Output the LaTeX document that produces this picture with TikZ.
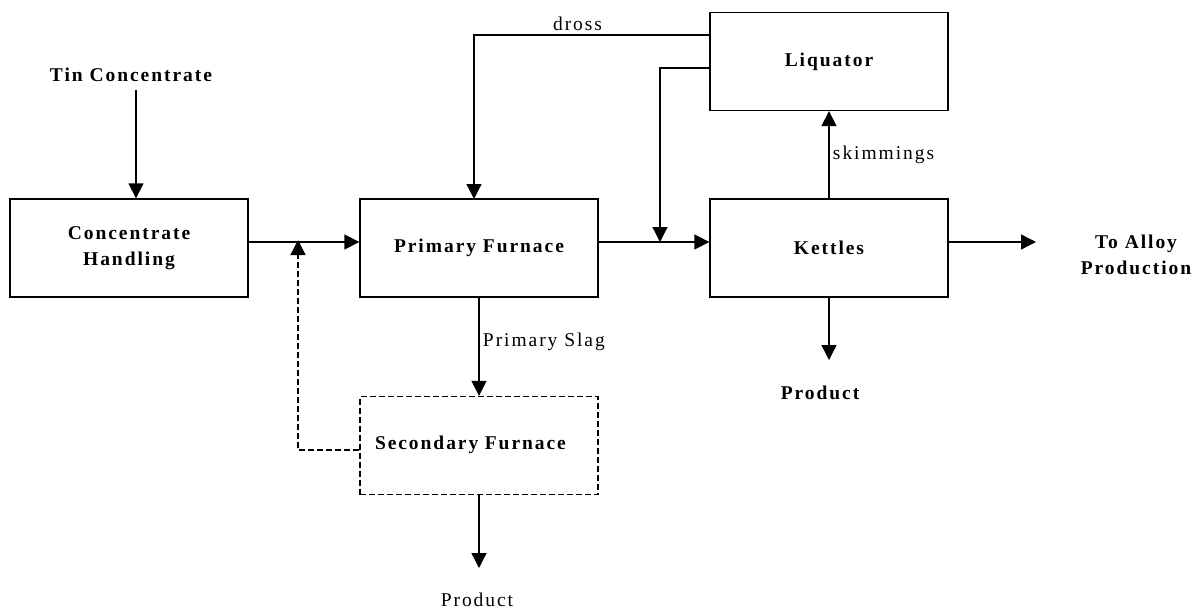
\documentclass[tikz,border=0pt]{standalone}
\usepackage{fontspec}
\setmainfont{Liberation Serif}[LetterSpace=10]
\usepackage{tikz}
\usetikzlibrary{arrows.meta}

\begin{document}
\begin{tikzpicture}[x=1pt, y=-1pt, >={Triangle[length=15pt,width=15pt]}, line width=1.3pt]
\useasboundingbox (0,0) rectangle (1192,610);

\tikzstyle{every node}=[rectangle, draw, minimum width=238pt, minimum height=98pt, font=\fontsize{19.5}{26}\selectfont\bfseries, align=center, line width=1.3pt]
\draw    (129, 248)  node (conc) {Concentrate\\Handling}
         (479, 248)  node (prim) {Primary Furnace}
         (829, 248)  node (kett) {Kettles}
         (829, 61.5) node (liqu) {Liquator};
\draw    (479, 445.5) node[dashed, dash pattern=on 6pt off 3pt, text width=220pt, align=left, text depth=6pt] (seco) {\hspace*{6pt}Secondary Furnace};

\tikzstyle{every node}=[font=\fontsize{19.5}{26}\selectfont]
\draw    (131, 75)   node[font=\fontsize{19.5}{26}\selectfont\bfseries] (tin) {Tin Concentrate}
         (820, 393)  node[font=\fontsize{19.5}{26}\selectfont\bfseries] (prod1) {Product}
         (477, 600)  node (prod2) {Product}
         (1136, 255) node[align=center, font=\fontsize{19.5}{26}\selectfont\bfseries] (alloy) {To Alloy\\Production};
\coordinate (tinend) at (136, 90);
\coordinate (merge1) at (298, 242);
\coordinate (merge2) at (660, 242);
\coordinate (prod1end) at (829, 360);
\coordinate (prod2end) at (479, 568);
\coordinate (alloyend) at (1036, 242);

\draw [->] (tinend) -- (tinend |- conc.north);
\draw [->] (conc.east |- merge1) -- (prim.west |- merge1);
\draw [->, dash pattern=on 6pt off 3pt] (seco.west |- 0,450) -| ([yshift=2pt]merge1);
\draw [->] (prim.south) -- node[right, pos=0.45] {Primary Slag} (seco.north);
\draw [->] (seco.south) -- (prod2end);
\draw [->] (prim.east |- merge2) -- (kett.west |- merge2);
\draw [->] (liqu.west |- 0,35) -| node[pos=0.28, above] {dross} (474, 199);
\draw [->] (liqu.west |- 0,68) -| (merge2);
\draw [->] (kett.north) -- node[right] {skimmings} (liqu.south);
\draw [->] (kett.south) -- (prod1end);
\draw [->] (kett.east |- alloyend) -- (alloyend);

\end{tikzpicture}
\end{document}
